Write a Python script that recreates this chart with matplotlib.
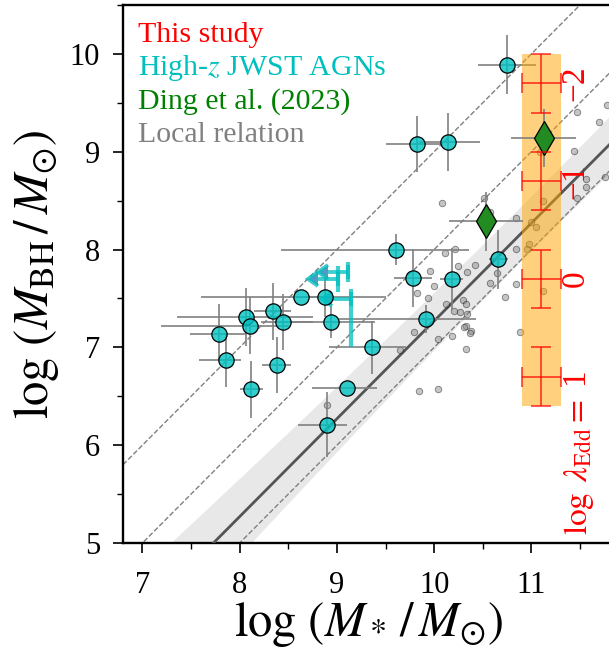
import numpy as np
import matplotlib
matplotlib.use("Agg")
import matplotlib.pyplot as plt

plt.rcParams['font.family'] = 'serif'
plt.rcParams['font.serif'] = ['Liberation Serif', 'DejaVu Serif']
plt.rcParams['mathtext.fontset'] = 'stix'

# ---------------- data ----------------
# High-z JWST AGNs
jwst_x = [7.79, 7.86, 8.06, 8.11, 8.12, 8.34, 8.45, 8.38, 8.63, 8.88, 8.94,
          9.36, 9.10, 8.90, 9.61, 9.78, 9.92, 10.18, 9.82, 10.14, 10.745, 10.66]
jwst_y = [7.14, 6.87, 7.31, 7.22, 6.57, 7.37, 7.26, 6.82, 7.51, 7.51, 7.26,
          7.00, 6.58, 6.21, 8.00, 7.71, 7.29, 7.70, 9.08, 9.10, 9.89, 7.90]
jwst_xerr_lo = [0.30, 0.28, 0.70, 0.92, 0.12, 0.19, 0.23, 0.15, 1.03, 0.30, 0.60,
                0.44, 0.36, 0.30, 1.18, 0.19, 0.90, 0.12, 0.31, 0.30, 0.29, 0.10]
jwst_xerr_hi = [0.28, 0.15, 0.69, 0.40, 0.12, 0.19, 0.30, 0.15, 0.30, 0.63, 0.45,
                0.35, 0.31, 0.20, 0.75, 0.20, 0.51, 0.12, 0.27, 0.33, 0.30, 0.10]
jwst_yerr_lo = [0.27, 0.28, 0.30, 0.29, 0.29, 0.29, 0.29, 0.29, 0.00, 0.20, 0.16,
                0.27, 0.00, 0.33, 0.16, 0.30, 0.14, 0.32, 0.29, 0.30, 0.30, 0.30]
jwst_yerr_hi = [0.30, 0.28, 0.30, 0.29, 0.29, 0.29, 0.29, 0.29, 0.00, 0.20, 0.16,
                0.27, 0.00, 0.33, 0.16, 0.30, 0.14, 0.32, 0.29, 0.30, 0.30, 0.30]

# JWST AGNs with stellar-mass upper limits
ul_x = [9.11, 9.01, 9.145]
ul_y = [7.77, 7.70, 7.49]
ul_len = [0.2, 0.2, 0.2]
ul_yerr_lo = [0.10, 0.13, 0.49]
ul_yerr_hi = [0.10, 0.13, 0.11]

# Ding et al. (2023)
ding_x = [11.125, 10.53]
ding_y = [9.14, 8.29]
ding_xerr = [0.33, 0.38]
ding_yerr = [0.30, 0.30]

# This study (for different Eddington ratios)
log_edd = [-2, -1, 0, 1]
study_x = [11.1, 11.1, 11.1, 11.1]
study_y = [9.7, 8.7, 7.7, 6.7]
study_xerr = 0.2
study_yerr = 0.3
box_x = [10.9, 11.3]
box_ylo, box_yhi = 6.4, 10.0

# local sample
local_x = [10.079, 10.508, 10.570, 10.837, 10.210, 10.114, 10.244, 10.416, 10.333, 9.956,
           10.001, 9.822, 9.942, 10.124, 10.302, 10.330, 10.336, 10.203, 10.261, 10.330,
           10.306, 10.382, 10.364, 9.795, 9.654, 10.042, 10.179, 10.323, 9.847, 10.042,
           10.649, 10.570, 10.731, 10.845, 10.837, 10.886, 10.954, 10.974, 11.465, 11.777,
           11.699, 11.437, 11.084, 11.561, 11.565, 11.756, 11.465, 11.118, 10.992, 11.043,
           11.118, 8.900]
local_y = [8.480, 8.522, 8.384, 8.327, 8.009, 7.961, 7.831, 7.841, 7.774, 7.784,
           7.630, 7.551, 7.500, 7.446, 7.483, 7.442, 7.346, 7.367, 7.364, 7.223,
           7.210, 7.172, 7.149, 7.155, 6.977, 7.087, 7.121, 6.985, 6.554, 6.578,
           7.756, 7.657, 7.513, 7.651, 8.005, 7.155, 8.009, 8.053, 9.403, 9.481,
           9.306, 9.003, 8.999, 8.719, 8.640, 8.737, 8.522, 8.494, 8.282, 8.235,
           7.572, 6.407]

# local relation: log MBH = slope*log M* + intercept
rel_slope, rel_intercept = 1.0, -2.73
band_a, band_b, band_pivot = 0.28, 0.092, 11.0
ratio_offsets = [-1, -2, -3]   # constant MBH/M* lines

# ---------------- figure ----------------
fig = plt.figure(figsize=(6.09, 6.53), dpi=100)
ax = fig.add_axes([123/609, 110/653, 491/609, 538/653])

XLIM = (6.8, 11.85)
YLIM = (5, 10.5)
xx = np.linspace(XLIM[0], XLIM[1], 200)
yy = rel_slope*xx + rel_intercept
hw = np.sqrt(band_a**2 + (band_b*(xx - band_pivot))**2)
ax.fill_between(xx, yy - hw, yy + hw, color='gray', alpha=0.18, lw=0, zorder=1)
for off in ratio_offsets:
    ax.plot(xx, xx + off, ls='--', color='gray', lw=1.0, zorder=2)
ax.plot(xx, yy, color='#555555', lw=2.0, zorder=3)

ax.scatter(local_x, local_y, s=22, facecolor='gray', edgecolor='k', lw=0.6,
           alpha=0.45, zorder=4)

ax.errorbar(jwst_x, jwst_y, xerr=[jwst_xerr_lo, jwst_xerr_hi],
            yerr=[jwst_yerr_lo, jwst_yerr_hi], fmt='o', ms=11,
            mfc=(0.0, 0.76, 0.76, 0.8), mec='k', mew=0.9,
            ecolor='gray', elinewidth=1.2, capsize=0, zorder=5)
# upper limits: vertical uncertainty + left-pointing arrow
ax.errorbar(ul_x, ul_y, yerr=[ul_yerr_lo, ul_yerr_hi], fmt='none', ecolor='c',
            alpha=0.75, elinewidth=3.0, capsize=0, zorder=5)
ax.errorbar(ul_x, ul_y, xerr=ul_len, xuplims=True, fmt='none', ecolor='c',
            alpha=0.75, elinewidth=2.8, capsize=5, capthick=2.8, zorder=5)

ax.fill_between(box_x, box_ylo, box_yhi, color='orange', alpha=0.5, lw=0, zorder=6)

ax.errorbar(ding_x, ding_y, xerr=ding_xerr, yerr=ding_yerr, fmt='d', ms=17,
            mfc='forestgreen', mec='k', mew=0.9, ecolor='gray',
            elinewidth=1.2, capsize=0, zorder=7)

ax.errorbar(study_x, study_y, xerr=study_xerr, yerr=study_yerr, fmt='none',
            ecolor='red', alpha=0.7, elinewidth=1.3, capsize=7.5, capthick=1.3,
            zorder=8)
for le, yv in zip(log_edd, study_y):
    lab = ('−%d' % abs(le)) if le < 0 else '%d' % le
    ax.text(11.45, yv, lab, color='red', fontsize=24, rotation=90,
            ha='center', va='center', zorder=9)
ax.text(11.49, 5.08, r'$\log\;\lambda_{\rm Edd}=$', color='red', fontsize=24,
        rotation=90, ha='center', va='bottom', zorder=9)

# legend-like labels
leg = [('This study', 'red'), ('High-$z$ JWST AGNs', 'c'),
       ('Ding et al. (2023)', 'green'), ('Local relation', 'gray')]
for k, (t, c) in enumerate(leg):
    ax.text(0.031, 0.945 - k*0.0625, t, color=c, fontsize=21.5,
            transform=ax.transAxes, ha='left', va='center')

ax.set_xticks([7, 8, 9, 10, 11])
ax.set_xticks(np.arange(7.0, 12.0, 0.5), minor=True)
ax.set_yticks([5, 6, 7, 8, 9, 10])
ax.set_yticks(np.arange(5, 10.6, 0.5), minor=True)
ax.set_xlim(*XLIM)
ax.set_ylim(*YLIM)
ax.tick_params(which='major', direction='out', length=7.5, width=1.2,
               labelsize=22)
ax.tick_params(axis='x', which='major', pad=13)
ax.tick_params(axis='y', which='major', pad=9)
ax.tick_params(which='minor', direction='out', length=4.5, width=1.0)
for sp in ax.spines.values():
    sp.set_linewidth(1.7)
ax.set_xlabel(r'$\log\,(M_*\,/\,M_{\odot})$', fontsize=35, labelpad=0)
ax.set_ylabel(r'$\log\,(M_{\rm BH}\,/\,M_{\odot})$', fontsize=35, labelpad=6)

fig.savefig('out.png', dpi=100)
